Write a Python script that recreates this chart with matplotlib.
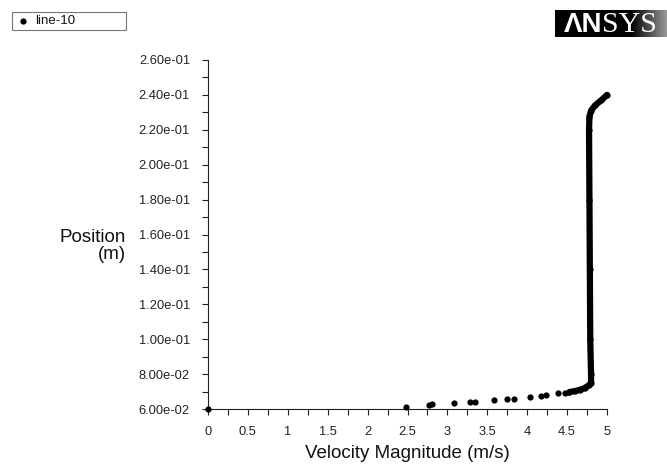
import matplotlib
matplotlib.use("Agg")
import matplotlib.pyplot as plt
import numpy as np

plt.rcParams['font.family'] = ['Liberation Sans', 'DejaVu Sans']

# ---- data ----
sparse_x = [0.00, 2.48, 2.77, 2.81, 3.08, 3.28, 3.35, 3.59, 3.75, 3.83,
            4.04, 4.17, 4.23, 4.39, 4.47, 4.53]
sparse_y = [0.0600, 0.0610, 0.0622, 0.0627, 0.0633, 0.0638, 0.0638, 0.0650,
            0.0657, 0.0657, 0.0669, 0.0674, 0.0680, 0.0690, 0.0693, 0.0697]

dense_x = [4.53, 4.60, 4.66, 4.72, 4.77, 4.80, 4.80, 4.79, 4.785, 4.78,
           4.775, 4.78, 4.80, 4.85, 4.93, 5.00]
dense_y = [0.0697, 0.0703, 0.0710, 0.0720, 0.0735, 0.0750, 0.0800, 0.1000,
           0.1400, 0.1800, 0.2200, 0.2275, 0.2310, 0.2340, 0.2370, 0.2400]

x_ticks = [0, 0.5, 1, 1.5, 2, 2.5, 3, 3.5, 4, 4.5, 5]
x_tick_labels = ["0", "0.5", "1", "1.5", "2", "2.5", "3", "3.5", "4", "4.5", "5"]
y_ticks = [0.06, 0.08, 0.10, 0.12, 0.14, 0.16, 0.18, 0.20, 0.22, 0.24, 0.26]
y_tick_labels = ["6.00e-02", "8.00e-02", "1.00e-01", "1.20e-01", "1.40e-01",
                 "1.60e-01", "1.80e-01", "2.00e-01", "2.20e-01", "2.40e-01",
                 "2.60e-01"]
series_name = "line-10"
x_label = "Velocity Magnitude (m/s)"
y_label = "Position\n(m)"

W, H = 667, 468
fig = plt.figure(figsize=(W / 100, H / 100), dpi=100)
ax = fig.add_axes([208 / W, 1 - 409 / H, (607 - 208) / W, (409 - 60) / H])

ms = 4.5
ax.plot(dense_x, dense_y, '-', color='black', lw=ms, solid_capstyle='round',
        solid_joinstyle='round', clip_on=False, zorder=3)
ax.plot(dense_x, dense_y, 'o', color='black', ms=ms, mew=0, clip_on=False, zorder=3)
ax.plot(sparse_x, sparse_y, 'o', color='black', ms=ms, mew=0, clip_on=False, zorder=3)

ax.set_xlim(0, 5)
ax.set_ylim(0.06, 0.26)
ax.set_xticks(x_ticks)
ax.set_xticklabels(x_tick_labels)
ax.set_yticks(y_ticks)
ax.set_yticklabels(y_tick_labels)
ax.set_xticks([t + 0.25 for t in x_ticks[:-1]], minor=True)
ax.set_yticks([t + 0.01 for t in y_ticks[:-1]], minor=True)

for s in ['top', 'right']:
    ax.spines[s].set_visible(False)
for s in ['left', 'bottom']:
    ax.spines[s].set_linewidth(0.8)
    ax.spines[s].set_color('#222222')

ax.tick_params(axis='both', which='both', direction='out', length=4,
               width=0.8, color='#222222')
ax.tick_params(axis='both', which='major', labelsize=9.3, labelcolor='#222222')
ax.tick_params(axis='x', which='major', pad=8)
ax.tick_params(axis='y', which='major', pad=9)

ax.set_xlabel(x_label, fontsize=13.5, labelpad=5, color='#111111')
fig.text(126 / W, 1 - 246 / H, y_label, ha='right', va='center',
         fontsize=13.5, color='#111111', multialignment='right', linespacing=1.05)

# legend box
fig.patches.append(matplotlib.patches.Rectangle(
    (12 / W, 1 - 30 / H), (126 - 12) / W, (30 - 12) / H,
    transform=fig.transFigure, fill=False, edgecolor='#777777', lw=0.8))
fig.lines.append(matplotlib.lines.Line2D([23 / W], [1 - 21 / H], marker='o',
                 color='black', ms=ms, mew=0, transform=fig.transFigure))
fig.text(35 / W, 1 - 21 / H, series_name, ha='left', va='center', fontsize=9.5,
         color='#111111')

# ANSYS logo
lax = fig.add_axes([555 / W, 1 - 37 / H, (W - 555) / W, 27 / H])
tt = np.linspace(0, 1, 200)
shade = np.clip((tt - 0.68) / 0.32, 0, 1) * 0.6
lax.imshow(np.vstack([shade, shade]), cmap='gray', vmin=0, vmax=1,
           aspect='auto', extent=[0, 1, 0, 1])
lax.set_axis_off()
t1 = fig.text(564 / W, 1 - 32.5 / H, "ΛN", color='white', fontsize=20,
              fontweight='bold', family='Liberation Sans', ha='left', va='baseline')
lax.annotate("SYS", xy=(1, 0), xycoords=t1, xytext=(0, 0), textcoords='offset points',
             color='white', fontsize=21.5, family='Liberation Serif', ha='left',
             va='bottom', annotation_clip=False)

fig.savefig("out.png", dpi=100)
